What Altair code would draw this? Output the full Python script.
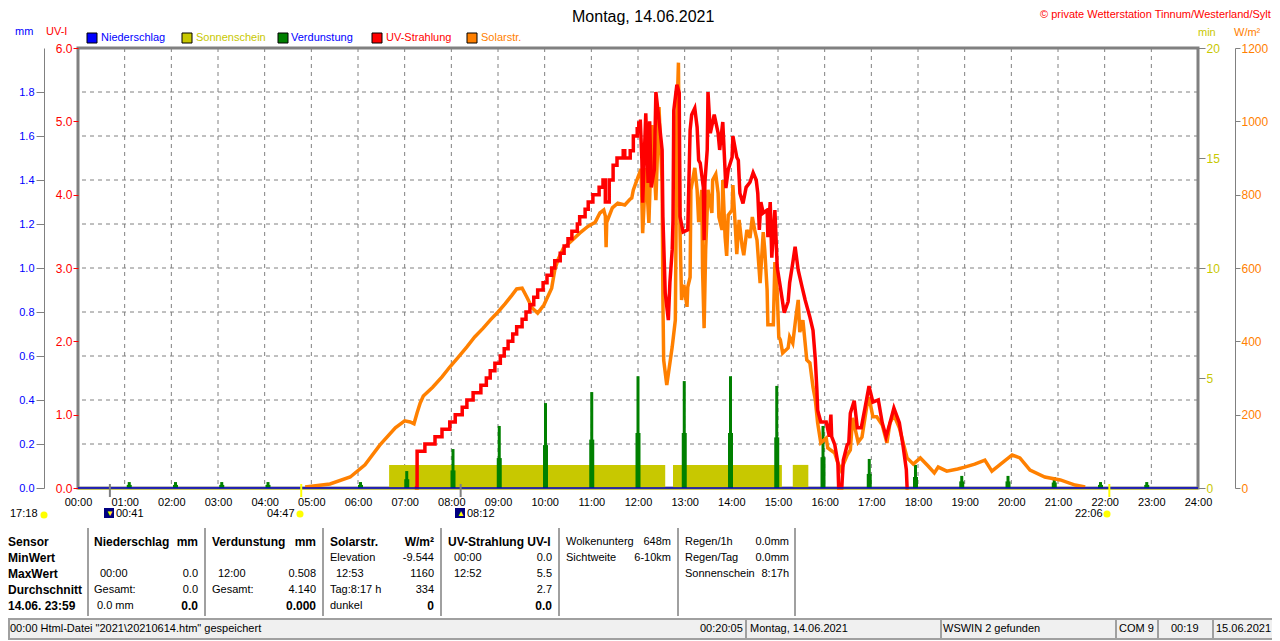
import altair as alt
import pandas as pd

# ---------- data ----------
uv_ramp_min = [433,436,446,459,468,478,485,494,500,508,518,525,530,536,543,548,553,559,564,571,576,581,586,591,598,603,609,613,620,625,630,635,642,645,652,656,662,670,675,678,681,683,688,693,701,703,710,714,719,721]
uv_ramp_val = [0.0,0.5,0.6,0.7,0.8,0.9,1.0,1.1,1.2,1.3,1.4,1.5,1.6,1.7,1.8,1.9,2.0,2.1,2.2,2.3,2.4,2.5,2.6,2.7,2.8,2.9,3.0,3.1,3.2,3.3,3.4,3.5,3.6,3.7,3.8,3.9,4.0,4.1,4.2,3.9,3.9,4.2,4.4,4.5,4.6,4.5,4.6,4.8,4.9,5.0]
uv_min = [721,723,725,726,730,733,735,737,741,743,747,751,752,755,759,761,764,765,766,770,773,774,778,784,787,789,793,796,798,800,804,805,806,809,810,813,818,823,825,829,833,836,841,842,847,849,851,855,859,864,868,872,874,876,878,881,886,887,890,892,896,899,903,908,913,915,919,922,926,931,935,941,945,948,950,951,955,962,966,968,969,973,977,978,982,984,989,991,993,998,1002,1007,1012,1017,1022,1029,1034,1039,1044,1049,1056,1061,1065,1066,1068]
uv_val = [5.0,5.0,4.47,3.89,5.11,4.16,5.0,4.1,4.34,5.4,5.02,4.61,3.7,2.66,2.29,2.8,3.25,3.65,5.15,5.5,5.39,3.7,3.49,3.52,4.88,5.09,5.18,4.92,4.47,4.43,4.1,3.38,4.16,4.61,5.4,4.84,5.09,4.84,4.61,4.99,4.09,4.34,4.51,4.8,4.51,4.47,4.02,3.88,4.1,4.17,4.3,4.2,4.02,3.52,3.9,3.75,3.79,3.42,3.9,3.14,3.79,3.01,2.74,2.39,2.54,2.8,3.07,3.29,2.97,2.74,2.56,2.33,2.15,1.75,1.34,1.06,0.9,0.9,0.7,1.0,0.7,0.59,0.34,0.0,0.0,0.38,0.59,0.61,1.02,1.19,0.82,0.82,1.1,1.39,1.17,1.2,0.89,0.7,0.89,1.09,0.89,0.56,0.25,0.0,0.0]
solar_min = [292,324,350,369,388,408,420,427,432,436,440,444,456,468,478,489,500,510,521,530,540,549,558,564,571,577,584,591,599,609,613,617,624,633,645,656,665,671,676,678,679,680,681,687,694,703,710,712,714,720,724,726,730,734,738,743,747,751,752,753,757,764,768,769,770,772,773,774,776,779,783,784,787,788,793,796,798,802,803,805,807,810,815,816,820,823,824,828,829,832,834,836,841,842,845,847,850,854,856,860,864,867,870,873,877,881,883,886,887,894,896,899,901,903,906,913,915,919,923,926,928,932,937,941,945,948,951,955,962,964,973,977,981,989,993,996,1003,1008,1014,1017,1022,1027,1034,1040,1044,1049,1056,1061,1066,1074,1083,1093,1101,1106,1117,1131,1140,1153,1166,1175,1185,1201,1211,1224,1243,1263,1282,1295]
solar_val = [3,11,30,63,117,164,183,180,175,205,232,251,275,303,330,357,385,412,436,458,480,502,526,543,545,521,491,477,499,545,595,622,654,671,695,714,725,750,758,742,657,742,731,764,777,772,788,791,813,848,870,695,873,723,990,785,1039,832,521,349,281,385,458,723,1012,1160,922,704,513,554,494,548,575,813,873,813,725,813,595,436,649,813,750,840,856,804,739,704,840,684,633,744,758,826,717,638,731,657,635,704,682,739,704,676,559,698,649,540,445,445,616,532,412,404,368,382,412,395,466,513,425,458,349,341,275,240,177,123,136,109,95,68,49,90,104,191,125,139,221,248,194,194,172,123,177,199,164,123,82,65,82,60,41,57,46,52,57,65,76,46,63,90,82,49,30,22,8,3]
evap_hours = [1,2,3,4,6,7,8,9,10,11,12,13,14,15,16,17,18,19,20,21,22,23]
evap_high = [.027,.027,.027,.027,.027,.077,.177,.282,.386,.436,.508,.486,.508,.464,.282,.132,.105,.055,.055,.05,.027,.027]
evap_low = [.014,.014,.014,.014,.014,.04,.08,.136,.195,.22,.25,.25,.25,.23,.14,.064,.05,.03,.03,.025,.014,.014]
sun_start = [400,765,919]
sun_end = [755,905,939]
sun_height = [1.05,1.05,1.05]
rain_min = [0,1440]
rain_val = [0.0,0.0]
marker_grey = [41,492]
marker_yellow = [287,1326]

uv_ticks = [0,1,2,3,4,5,6]
mm_ticks = [0,.2,.4,.6,.8,1.0,1.2,1.4,1.6,1.8]
mm_grid = [.2,.4,.6,.8,1.0,1.2,1.4,1.6,1.8]
min_ticks = [0,5,10,15,20]
wm_ticks = [0,200,400,600,800,1000,1200]
hours = [h*60 for h in range(25)]
grid_hours = [h*60 for h in range(1,24)]

legend_labels = ["Niederschlag","Sonnenschein","Verdunstung","UV-Strahlung","Solarstr."]
legend_box = ["#0000FF","#C8C800","#008000","#FF0000","#FF8000"]
legend_text = ["#0000FF","#C8C800","#0000FF","#FF0000","#FF8000"]

# ---------- layout (page pixels) ----------
OX, OY = 78, 48
W, H = 1120, 440
FONT = "Liberation Sans"
GREY = "#808080"
BLUE, OLIVE, GREEN, RED, ORANGE = legend_box

def rows(items):
    return pd.DataFrame([{"px":x-OX,"py":y-OY,"t":t,"c":c} for x,y,t,c in items])

def text_layer(items, align="left", bold=False, size=11):
    return alt.Chart(rows(items)).mark_text(align=align, baseline="middle", font=FONT,
            fontSize=size, fontWeight="bold" if bold else "normal").encode(
        x=alt.X("px:Q", scale=None, axis=None), y=alt.Y("py:Q", scale=None, axis=None),
        text="t:N", color=alt.Color("c:N", scale=None, legend=None))

def boxes(items, **kw):
    df = pd.DataFrame([{"a":a-OX,"b":b-OX,"c":c-OY,"d":d-OY,"f":f} for a,b,c,d,f in items])
    return alt.Chart(df).mark_rect(**kw).encode(
        x=alt.X("a:Q", scale=None, axis=None), x2="b:Q",
        y=alt.Y("c:Q", scale=None, axis=None), y2="d:Q",
        color=alt.Color("f:N", scale=None, legend=None))

K = "#000000"
R1,R2,R3,R4,R5 = 542,558,574,590,606
left_bold = [(8,R1,"Sensor",K),(8,R2,"MinWert",K),(8,R3,"MaxWert",K),(8,R4,"Durchschnitt",K),(8,R5,"14.06. 23:59",K),
             (94,R1,"Niederschlag",K),(212,R1,"Verdunstung",K),(330,R1,"Solarstr.",K),(448,R1,"UV-Strahlung UV-I",K)]
right_bold = [(198,R1,"mm",K),(316,R1,"mm",K),(434,R1,"W/m²",K),(198,R5,"0.0",K),(316,R5,"0.000",K),(434,R5,"0",K),(552,R5,"0.0",K)]
left_reg = [(100,R3,"00:00",K),(94,R4,"Gesamt:",K),(97,R5,"0.0 mm",K),(218,R3,"12:00",K),(212,R4,"Gesamt:",K),
            (330,R2,"Elevation",K),(336,R3,"12:53",K),(330,R4,"Tag:8:17 h",K),(330,R5,"dunkel",K),
            (454,R2,"00:00",K),(454,R3,"12:52",K),(566,R1,"Wolkenunterg",K),(566,R2,"Sichtweite",K),
            (685,R1,"Regen/1h",K),(685,R2,"Regen/Tag",K),(685,R3,"Sonnenschein",K),
            (10,514,"17:18",K),(116,514,"00:41",K),(267,514,"04:47",K),(467,514,"08:12",K),(1075,514,"22:06",K),
            (10,629,'00:00  Html-Datei  "2021\\20210614.htm"  gespeichert',K),(700,629,"00:20:05",K),(750,629,"Montag, 14.06.2021",K),
            (943,629,"WSWIN 2 gefunden",K),(1119,629,"COM 9",K),(1171,629,"00:19",K),(1216,629,"15.06.2021",K),
            (15,32,"mm",BLUE),(46,32,"UV-I",RED),(1198,33,"min",OLIVE),(1234,33,"W/m²",ORANGE)]
right_reg = [(198,R3,"0.0",K),(198,R4,"0.0",K),(316,R3,"0.508",K),(316,R4,"4.140",K),(434,R2,"-9.544",K),(434,R3,"1160",K),
             (434,R4,"334",K),(552,R2,"0.0",K),(552,R3,"5.5",K),(552,R4,"2.7",K),(671,R1,"648m",K),(671,R2,"6-10km",K),
             (789,R1,"0.0mm",K),(789,R2,"0.0mm",K),(789,R3,"8:17h",K)]
title_txt = [(572,17,"Montag, 14.06.2021",K)]
copyright_txt = [(1040,15,"© private Wetterstation Tinnum/Westerland/Sylt",RED)]

legend_x_box = [87,182,278,372,467]
legend_x_txt = [101,196,291,386,481]
legend_boxes = [(x,x+10,33,43,c) for x,c in zip(legend_x_box,legend_box)]
legend_txt = [(x,38,t,c) for x,t,c in zip(legend_x_txt,legend_labels,legend_text)]

SEP = "#A0A0A0"
seps = [(x,x+2,528,616,SEP) for x in (87,204,322,440,558,677,794)]
status = [(8,1272,618,620,SEP),(8,1272,620,638,"#F0F0F0"),(8,1272,638,640,SEP),(8,10,620,638,SEP)]
status += [(x,x+2,620,638,SEP) for x in (745,940,1115,1157,1212)]
icons = [(104,114,508,518,"#000080"),(455,465,508,518,"#000080")]
glyphs = [(106,514,"▼","#FFFF00"),(457,514,"▲","#FFFF00")]

# ---------- plot layers ----------
xs = alt.Scale(domain=[0,1440], nice=False, zero=False)
ymm = alt.Scale(domain=[0,2.0], nice=False)
yuv = alt.Scale(domain=[0,6], nice=False)
ymin = alt.Scale(domain=[0,20], nice=False)
ysol = alt.Scale(domain=[0,1200], nice=False)
xnone = alt.X("t:Q", scale=xs, axis=None)

x_axis = alt.Axis(values=hours, grid=False,
                  tickSize=0, domain=False, labelPadding=8, labelFont=FONT, labelFontSize=11, labelColor="#000",
                  labelFlush=False, labelOverlap=False, title=None,
                  labelExpr="(floor(datum.value/60)<10?'0':'')+floor(datum.value/60)+':00'")

evap_df = pd.DataFrame({"t":[h*60 for h in evap_hours],"hi":evap_high,"lo":evap_low})
sun_df = pd.DataFrame({"t":sun_start,"t2":sun_end,"v":sun_height,"b":[0.0]*len(sun_start)})

axis_layer = alt.Chart(pd.DataFrame({"t":[0,1440],"v":[0.0,0.0]})).mark_line(opacity=0).encode(
    x=alt.X("t:Q", scale=xs, axis=x_axis),
    y=alt.Y("v:Q", scale=ymm, axis=alt.Axis(orient="left", offset=34, values=mm_ticks, grid=False, tickSize=8,
        tickColor=GREY, domainColor=GREY, labelColor=BLUE, labelFont=FONT, labelFontSize=11, labelPadding=2,
        format=".1f", title=None)))
hgrid = alt.Chart(pd.DataFrame({"v":mm_grid})).mark_rule(color=GREY, strokeWidth=1, strokeDash=[4,4]).encode(
    y=alt.Y("v:Q", scale=ymm, axis=None))
vgrid = alt.Chart(pd.DataFrame({"t":grid_hours})).mark_rule(color=GREY, strokeWidth=1, strokeDash=[4,4]).encode(x=xnone)
sun = alt.Chart(sun_df).mark_rect(color=OLIVE).encode(
    x=alt.X("t:Q", scale=xs, axis=None), x2="t2:Q",
    y=alt.Y("v:Q", scale=ymin, axis=alt.Axis(orient="right", values=min_ticks, tickSize=7, tickColor=GREY,
        domain=False, labelColor=OLIVE, labelFont=FONT, labelFontSize=12, labelPadding=1, title=None)), y2="b:Q")
evap_wide = alt.Chart(evap_df).mark_bar(color=GREEN, size=5).encode(
    x=xnone, y=alt.Y("lo:Q", scale=ymm, axis=None))
evap_thin = alt.Chart(evap_df).mark_bar(color=GREEN, size=3).encode(
    x=xnone, y=alt.Y("hi:Q", scale=ymm, axis=None))
solar = alt.Chart(pd.DataFrame({"t":solar_min,"v":solar_val})).mark_line(color=ORANGE, strokeWidth=3.5, strokeJoin="miter").encode(
    x=xnone, y=alt.Y("v:Q", scale=ysol, axis=alt.Axis(orient="right", offset=37, values=wm_ticks, tickSize=5,
        tickColor=GREY, domainColor=GREY, labelColor=ORANGE, labelFont=FONT, labelFontSize=12, labelPadding=1,
        format="d", title=None)))
uv_ramp = alt.Chart(pd.DataFrame({"t":uv_ramp_min,"v":uv_ramp_val})).mark_line(color=RED, strokeWidth=3.5, interpolate="step-after").encode(
    x=xnone, y=alt.Y("v:Q", scale=yuv, axis=None))
uv = alt.Chart(pd.DataFrame({"t":uv_min,"v":uv_val})).mark_line(color=RED, strokeWidth=3.5, strokeJoin="miter").encode(
    x=xnone, y=alt.Y("v:Q", scale=yuv, axis=alt.Axis(orient="left", values=uv_ticks, tickSize=5, tickColor=RED,
        domain=False, labelColor=RED, labelFont=FONT, labelFontSize=12, labelPadding=1, format=".1f", title=None)))
sun_zero = alt.Chart(pd.DataFrame({"t":rain_min,"v":rain_val})).mark_line(color=OLIVE, strokeWidth=1).encode(
    x=xnone, y=alt.Y("v:Q", scale=ymin, axis=None), yOffset=alt.value(1))
rain = alt.Chart(pd.DataFrame({"t":rain_min,"v":rain_val})).mark_line(color="#0000C8", strokeWidth=1.5).encode(
    x=xnone, y=alt.Y("v:Q", scale=ymm, axis=None))
mk_g = alt.Chart(pd.DataFrame({"t":marker_grey})).mark_rule(color=GREY, strokeWidth=2).encode(
    x=xnone, y=alt.value(436), y2=alt.value(449))
mk_y = alt.Chart(pd.DataFrame({"t":marker_yellow})).mark_rule(color="#FFFF00", strokeWidth=2).encode(
    x=xnone, y=alt.value(436), y2=alt.value(449))

sun_mark = alt.Chart(pd.DataFrame({"px":[300-OX,1107-OX,44-OX],"py":[514-OY,514-OY,515-OY]})).mark_circle(
    color="#FFFF00", size=50, opacity=1).encode(
    x=alt.X("px:Q", scale=None, axis=None), y=alt.Y("py:Q", scale=None, axis=None))

layers = [
    boxes(status), boxes(seps),
    axis_layer, hgrid, vgrid, sun, evap_wide, evap_thin, solar, uv_ramp, uv, sun_zero, rain, mk_g, mk_y,
    boxes(legend_boxes, stroke="#000000", strokeWidth=1),
    text_layer(legend_txt),
    boxes(icons), text_layer(glyphs, align="left", size=8), sun_mark,
    text_layer(left_reg), text_layer(right_reg, align="right"),
    text_layer(copyright_txt, size=11),
    text_layer(left_bold, bold=True, size=12), text_layer(right_bold, align="right", bold=True, size=12),
    text_layer(title_txt, size=16),
]

chart = alt.layer(*layers).resolve_scale(x="independent", y="independent", color="independent").properties(
    width=W, height=H, autosize=alt.AutoSizeParams(type="none"),
    padding={"left":OX-8,"top":OY-8,"right":74,"bottom":153}, background="#FFFFFF"
).configure_view(stroke=GREY, strokeWidth=3)

chart.save("out.html", embed_options={"renderer": "svg", "actions": False})
